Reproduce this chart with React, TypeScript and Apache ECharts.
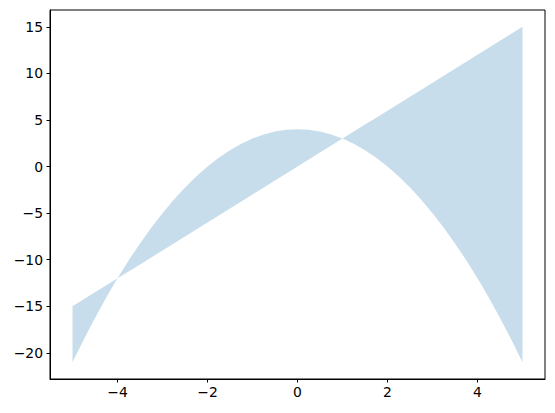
import React, { useEffect, useRef } from "react";
import * as echarts from "echarts";

const xValues = [
  -5, -4.75, -4.5, -4.25, -4, -3.75, -3.5, -3.25, -3, -2.75, -2.5, -2.25, -2, -1.75, -1.5, -1.25, -1,
  -0.75, -0.5, -0.25, 0, 0.25, 0.5, 0.75, 1, 1.25, 1.5, 1.75, 2, 2.25, 2.5, 2.75, 3, 3.25, 3.5, 3.75,
  4, 4.25, 4.5, 4.75, 5,
];
const lineValues = [
  -15, -14.25, -13.5, -12.75, -12, -11.25, -10.5, -9.75, -9, -8.25, -7.5, -6.75, -6, -5.25, -4.5,
  -3.75, -3, -2.25, -1.5, -0.75, 0, 0.75, 1.5, 2.25, 3, 3.75, 4.5, 5.25, 6, 6.75, 7.5, 8.25, 9, 9.75,
  10.5, 11.25, 12, 12.75, 13.5, 14.25, 15,
];
const parabolaValues = [
  -21, -18.5625, -16.25, -14.0625, -12, -10.0625, -8.25, -6.5625, -5, -3.5625, -2.25, -1.0625, 0,
  0.9375, 1.75, 2.4375, 3, 3.4375, 3.75, 3.9375, 4, 3.9375, 3.75, 3.4375, 3, 2.4375, 1.75, 0.9375, 0,
  -1.0625, -2.25, -3.5625, -5, -6.5625, -8.25, -10.0625, -12, -14.0625, -16.25, -18.5625, -21,
];
const xTicks = [-4, -2, 0, 2, 4];
const yTicks = [-20, -15, -10, -5, 0, 5, 10, 15];

const fmt = (v: number) => String(v).replace("-", "\u2212");

export default function App() {
  const ref = useRef<HTMLDivElement>(null);
  useEffect(() => {
    if (!ref.current) return;
    const chart = echarts.init(ref.current, undefined, { renderer: "svg" });
    const data = xValues.map((x, i) => [x, lineValues[i], parabolaValues[i]]);
    const axisCommon = {
      axisLine: { show: true, onZero: false, lineStyle: { color: "#000", width: 1 } },
      axisTick: { show: true, inside: false, length: 3.5, lineStyle: { color: "#000", width: 1 } },
      splitLine: { show: false },
    };
    chart.setOption({
      animation: false,
      backgroundColor: "#fff",
      grid: {
        left: 50,
        right: 10,
        top: 10,
        bottom: 34,
        show: true,
        borderColor: "#000",
        borderWidth: 1,
        backgroundColor: "transparent",
      },
      xAxis: {
        type: "value",
        min: -5.5,
        max: 5.5,
        ...axisCommon,
        axisTick: { ...axisCommon.axisTick, customValues: xTicks },
        axisLabel: {
          customValues: xTicks,
          formatter: fmt,
          color: "#000",
          fontFamily: "DejaVu Sans",
          fontSize: 13.9,
          margin: 6,
        },
      },
      yAxis: {
        type: "value",
        min: -22.8,
        max: 16.8,
        ...axisCommon,
        axisTick: { ...axisCommon.axisTick, customValues: yTicks },
        axisLabel: {
          customValues: yTicks,
          formatter: fmt,
          color: "#000",
          fontFamily: "DejaVu Sans",
          fontSize: 13.9,
          margin: 7,
        },
      },
      series: [
        {
          type: "custom",
          coordinateSystem: "cartesian2d",
          data,
          renderItem: (params: any, api: any) => {
            if (params.dataIndex !== 0) return null;
            const pts: number[][] = [];
            for (let i = 0; i < xValues.length; i++) {
              pts.push(api.coord([xValues[i], lineValues[i]]));
            }
            for (let i = xValues.length - 1; i >= 0; i--) {
              pts.push(api.coord([xValues[i], parabolaValues[i]]));
            }
            return {
              type: "polygon",
              shape: { points: pts },
              style: { fill: "rgba(31,119,180,0.25)", stroke: "none" },
            };
          },
        },
      ],
    });
    return () => chart.dispose();
  }, []);
  return (
    <div
      ref={ref}
      style={{ position: "fixed", left: 0, top: 0, width: 555, height: 413 }}
    />
  );
}
